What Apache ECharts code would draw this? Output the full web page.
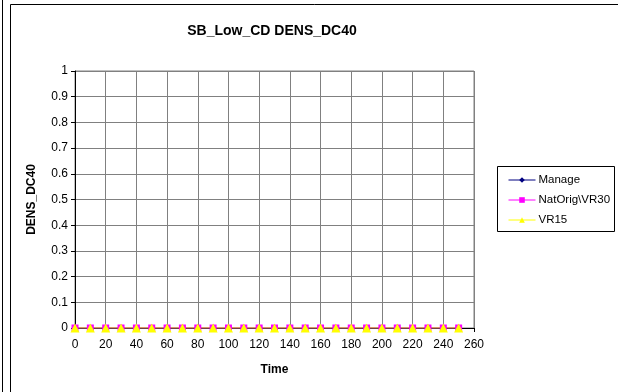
<!DOCTYPE html>
<html><head><meta charset="utf-8">
<script src="https://cdn.jsdelivr.net/npm/echarts@6/dist/echarts.min.js"></script>
<style>html,body{margin:0;padding:0;background:#fff}#c{width:618px;height:392px}</style>
</head><body><div id="c"></div>
<script>
const times = [0,10,20,30,40,50,60,70,80,90,100,110,120,130,140,150,160,170,180,190,200,210,220,230,240,250];
const manage = [0,0,0,0,0,0,0,0,0,0,0,0,0,0,0,0,0,0,0,0,0,0,0,0,0,0];
const natOrig = [0,0,0,0,0,0,0,0,0,0,0,0,0,0,0,0,0,0,0,0,0,0,0,0,0,0];
const vr15 = [0,0,0,0,0,0,0,0,0,0,0,0,0,0,0,0,0,0,0,0,0,0,0,0,0,0];
const seriesNames = ['Manage','NatOrig\\VR30','VR15'];
const FONT = '"Liberation Sans", Arial, sans-serif';
const pair = arr => times.map((t,i)=>[t,arr[i]]);
const chart = echarts.init(document.getElementById('c'));
chart.setOption({
  animation:false,
  textStyle:{fontFamily:FONT},
  title:{text:'SB_Low_CD DENS_DC40',left:267,top:19,textAlign:'center',
    textStyle:{fontFamily:FONT,fontSize:14,fontWeight:'bold',color:'#000'}},
  graphic:[
    {type:'line',shape:{x1:10.5,y1:4.5,x2:618,y2:4.5},style:{stroke:'#000',lineWidth:1}},
    {type:'line',shape:{x1:10.5,y1:4.5,x2:10.5,y2:392},style:{stroke:'#000',lineWidth:1}},
    {type:'line',shape:{x1:2.5,y1:0,x2:2.5,y2:392},style:{stroke:'#000',lineWidth:1}},
    {type:'rect',shape:{x:497.5,y:166.5,width:117,height:65},style:{fill:'#fff',stroke:'#000',lineWidth:1},z:-1}
  ],
  legend:{orient:'vertical',left:503,top:169,itemGap:8,itemWidth:27,itemHeight:7,
    lineStyle:{width:1},
    data:seriesNames,textStyle:{fontFamily:FONT,fontSize:11.5,color:'#000',padding:[0,0,0,-2]}},
  grid:{left:75,right:144,top:71,bottom:64,show:true,borderColor:'#808080',borderWidth:1},
  xAxis:{type:'value',min:0,max:260,interval:20,
    name:'Time',nameLocation:'middle',nameGap:36,
    nameTextStyle:{fontFamily:FONT,fontSize:12,fontWeight:'bold',color:'#000'},
    axisLine:{lineStyle:{color:'#000'}},axisTick:{show:true,length:4,lineStyle:{color:'#000'}},
    axisLabel:{fontFamily:FONT,fontSize:12,color:'#000',margin:11},
    splitLine:{show:true,lineStyle:{color:'#808080'}}},
  yAxis:{type:'value',min:0,max:1,interval:0.1,
    name:'DENS_DC40',nameLocation:'middle',nameGap:37,nameRotate:90,
    nameTextStyle:{fontFamily:FONT,fontSize:12,fontWeight:'bold',color:'#000'},
    axisLine:{show:true,lineStyle:{color:'#000'}},axisTick:{show:true,length:4,lineStyle:{color:'#000'}},
    axisLabel:{fontFamily:FONT,fontSize:12,color:'#000',margin:7},
    splitLine:{show:true,lineStyle:{color:'#808080'}}},
  series:[
    {name:seriesNames[0],type:'line',data:pair(manage),symbol:'diamond',symbolSize:7,
      lineStyle:{color:'#000080',width:1},itemStyle:{color:'#000080'}},
    {name:seriesNames[1],type:'line',data:pair(natOrig),symbol:'rect',symbolSize:7,
      lineStyle:{color:'#FF00FF',width:1},itemStyle:{color:'#FF00FF'}},
    {name:seriesNames[2],type:'line',data:pair(vr15),symbol:'triangle',symbolSize:9,
      lineStyle:{color:'#FFFF00',width:1},itemStyle:{color:'#FFFF00'}}
  ]
});
</script></body></html>
